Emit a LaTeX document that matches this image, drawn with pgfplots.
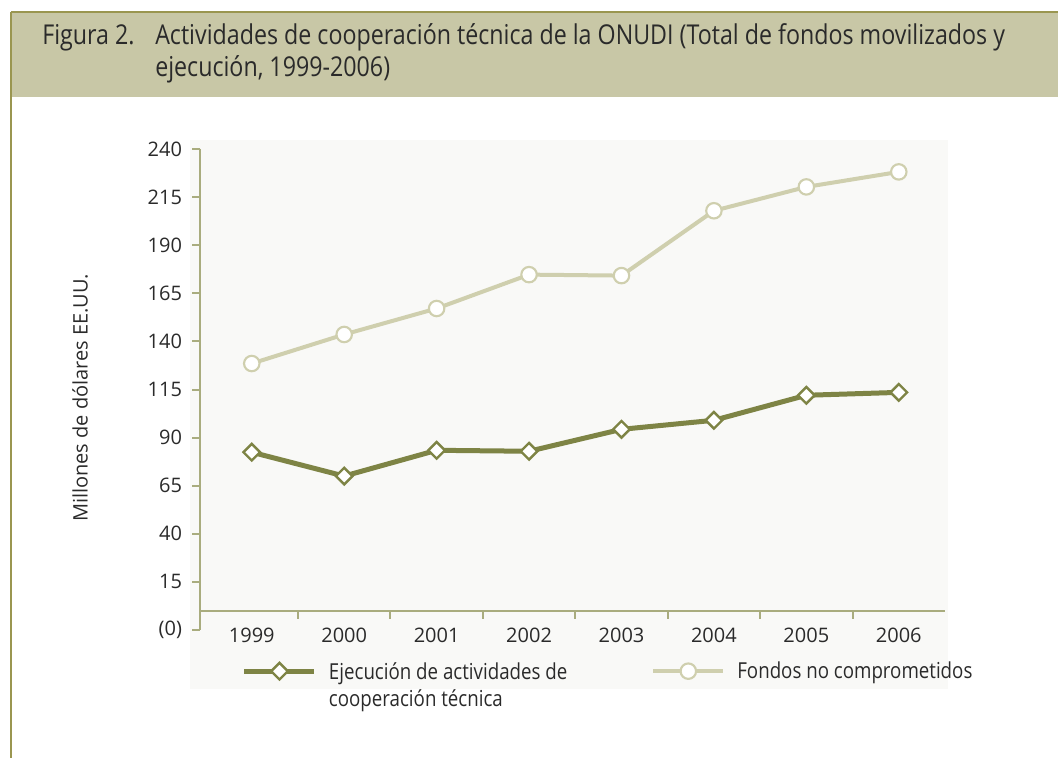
\documentclass[border=0pt]{standalone}
\usepackage{fontspec}
\setmainfont{Open Sans}
\newfontfamily\condfont[FakeStretch=0.85]{Open Sans}
\usepackage{pgfplots}
\pgfplotsset{compat=1.18}
\definecolor{band}{HTML}{C8C7A6}
\definecolor{bandline}{HTML}{9A9650}
\definecolor{axiscol}{HTML}{A9AC7E}
\definecolor{darkol}{HTML}{7E8445}
\definecolor{lightol}{HTML}{CFCFAE}
\definecolor{txt}{HTML}{2A2A2A}
\definecolor{plotbg}{HTML}{F9F9F7}
\begin{document}
\begin{tikzpicture}[x=0.75pt,y=0.75pt]
\path[use as bounding box] (0,0) rectangle (1058,758);
\fill[plotbg] (190,618) rectangle (948,69);
\fill[band] (11,746) rectangle (1058,661);
\draw[bandline, line width=1.5pt] (11,746) -- (1058,746);
\draw[bandline, line width=1.5pt] (11,746) -- (11,0);
\node[anchor=base west, font=\condfont\fontsize{20.5}{24}\selectfont, text=txt, inner sep=0pt] at (42,713) {Figura 2.};
\node[anchor=base west, font=\condfont\fontsize{20.5}{24}\selectfont, text=txt, inner sep=0pt] at (155,713) {Actividades de cooperación técnica de la ONUDI (Total de fondos movilizados y};
\node[anchor=base west, font=\condfont\fontsize{20.5}{24}\selectfont, text=txt, inner sep=0pt] at (155,681) {ejecución, 1999-2006)};
\node[rotate=90, font=\fontsize{15}{18}\selectfont, text=txt, inner sep=0pt] at (80,360) {Millones de dólares EE.UU.};
\begin{axis}[
  at={(150pt,96pt)}, anchor=south west,
  scale only axis, width=558.75pt, height=360.75pt,
  xmin=-0.56, xmax=7.5, ymin=-10, ymax=240,
  axis line style={draw=none},
  clip=false,
  xtick={0,...,7},
  xticklabels={1999,2000,2001,2002,2003,2004,2005,2006},
  ytick={-10,15,40,65,90,115,140,165,190,215,240},
  yticklabels={(0),15,40,65,90,115,140,165,190,215,240},
  ytick pos=left,
  tick align=outside, major tick length=6pt,
  xtick style={draw=none},
  ytick style={draw=axiscol, line width=1.5pt},
  /pgf/number format/assume math mode=true,
  tick label style={font=\fontsize{15}{18}\selectfont, text=txt},
  xticklabel style={yshift=11pt},
  yticklabel style={xshift=-4pt},
  legend image code/.code={\draw[mark repeat=2,mark phase=2,#1] plot coordinates {(0pt,0pt) (26.25pt,0pt) (52.5pt,0pt)};},
  legend columns=2,
  legend cell align=left,
  legend style={draw=none, fill=none, inner sep=0pt, at={(0.056,-0.058)}, anchor=north west,
    font=\condfont\fontsize{16.5}{20}\selectfont, text=txt,
    /tikz/every odd column/.append style={column sep=7pt},
    /tikz/every even column/.append style={column sep=61pt}},
]
\draw[axiscol, line width=1.5pt] (axis cs:-0.56,240) -- (axis cs:-0.56,-10);
\draw[axiscol, line width=1.5pt] (axis cs:-0.56,0) -- (axis cs:7.5,0);
\pgfplotsinvokeforeach{0.5,1.5,2.5,3.5,4.5,5.5,6.5}{\draw[axiscol, line width=1.5pt] (axis cs:#1,0) -- ++(0pt,-6pt);}
\addplot[darkol, line width=3.75pt, mark=square*, mark size=4.4pt,
  mark options={rotate=45, fill=white, draw=darkol, line width=1.8pt}]
  coordinates {(0,82.4) (1,70.0) (2,83.4) (3,82.9) (4,94.3) (5,99.0) (6,112.0) (7,113.5)};
\addlegendentry{\begin{tabular}[t]{@{}l@{}}Ejecución de actividades de\\cooperación técnica\end{tabular}}
\addplot[lightol, line width=3pt, mark=*, mark size=5.8pt,
  mark options={fill=white, draw=lightol, line width=1.6pt}]
  coordinates {(0,128.5) (1,143.6) (2,157.1) (3,174.7) (4,174.2) (5,207.9) (6,220.3) (7,228.1)};
\addlegendentry{Fondos no comprometidos}
\end{axis}
\end{tikzpicture}
\end{document}
